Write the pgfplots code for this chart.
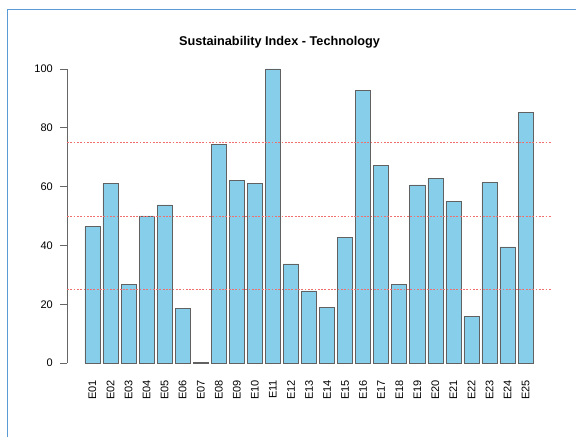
\documentclass[border=0pt]{standalone}
\usepackage{pgfplots}
\pgfplotsset{compat=1.18}
\usepackage{fontspec}
\setmainfont{Liberation Sans}
\definecolor{skyblue}{HTML}{87CEEB}
\definecolor{framblue}{HTML}{5B9BD5}
\definecolor{reflinecol}{HTML}{F07070}
\begin{document}
\begin{tikzpicture}[x=1pt,y=1pt]
\useasboundingbox (0,0) rectangle (576,437);
\draw[framblue, line width=1.8pt] (7.5,0) -- (7.5,427.5) -- (576,427.5);
\node[anchor=base, font=\fontsize{12.7}{15}\selectfont\bfseries] at (279.5,391) {Sustainability Index - Technology};
\begin{axis}[
  at={(67pt,62.2pt)}, anchor=south west,
  scale only axis, width=484pt, height=317.6pt,
  xmin=-0.992, xmax=31.192, ymin=-4, ymax=104,
  clip=false,
  axis line style={draw=none},
  ytick={0,20,40,60,80,100},
  ytick pos=left,
  xtick pos=bottom,
  tick align=outside,
  major tick length=7pt,
  ytick style={black!60, line width=0.6pt},
  y tick label style={font=\fontsize{11}{13}\selectfont, inner sep=0pt, xshift=-7pt},
  /pgf/number format/assume math mode=true,
  xtick={0.7,1.9,3.1,4.3,5.5,6.7,7.9,9.1,10.3,11.5,12.7,13.9,15.1,16.3,17.5,18.7,19.9,21.1,22.3,23.5,24.7,25.9,27.1,28.3,29.5},
  xticklabels={E01,E02,E03,E04,E05,E06,E07,E08,E09,E10,E11,E12,E13,E14,E15,E16,E17,E18,E19,E20,E21,E22,E23,E24,E25},
  xtick style={draw=none},
  x tick label style={font=\fontsize{11}{13}\selectfont, rotate=90, anchor=east, inner sep=0pt},
  xticklabel shift=-2pt,
  grid=none,
]
\draw[black!60, line width=0.6pt] (axis cs:-0.992,0) -- (axis cs:-0.992,100);
\addplot[ybar, bar width=15.04pt, bar shift=0pt, fill=skyblue, draw=black!62, line width=0.6pt] coordinates {
(0.7,46.4) (1.9,61.2) (3.1,26.8) (4.3,50.0) (5.5,53.8) (6.7,18.6) (7.9,0.2) (9.1,74.4) (10.3,62.2) (11.5,61.2)
(12.7,100.0) (13.9,33.7) (15.1,24.5) (16.3,18.9) (17.5,42.6) (18.7,92.7) (19.9,67.3) (21.1,26.8) (22.3,60.6) (23.5,62.8)
(24.7,55.1) (25.9,15.8) (27.1,61.3) (28.3,39.5) (29.5,85.3)
};
\addplot[reflinecol, line width=0.45pt, dash pattern=on 1.8pt off 1.5pt] coordinates {(-0.992,25) (31.192,25)};
\addplot[reflinecol, line width=0.45pt, dash pattern=on 1.8pt off 1.5pt] coordinates {(-0.992,50) (31.192,50)};
\addplot[reflinecol, line width=0.45pt, dash pattern=on 1.8pt off 1.5pt] coordinates {(-0.992,75) (31.192,75)};
\end{axis}
\end{tikzpicture}
\end{document}
